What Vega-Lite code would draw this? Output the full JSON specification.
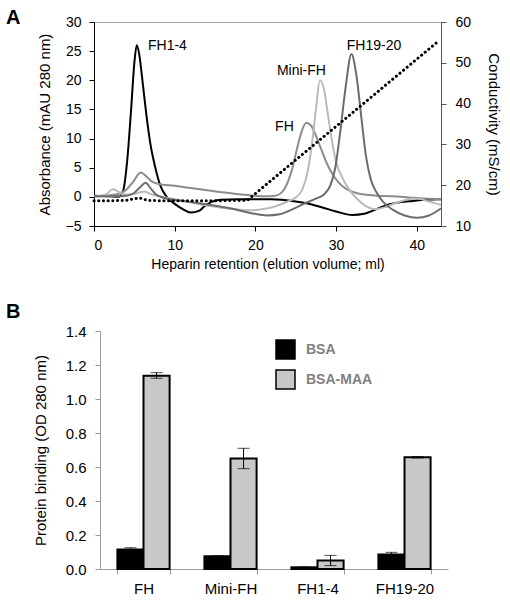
{
 "$schema": "https://vega.github.io/schema/vega-lite/v6.json",
 "padding": {"left": 5, "top": 7, "right": 5, "bottom": 5},
 "config": {"font": "Liberation Sans", "axis": {"labelColor": "black", "titleColor": "black", "labelFontSize": 14, "titleFontSize": 14, "titleFontWeight": "normal", "grid": false}},
 "datasets": {
  "protein": [
   {"s":"FH1-4","x":0,"y":0.2},{"s":"FH1-4","x":2,"y":0.1},{"s":"FH1-4","x":3,"y":0},{"s":"FH1-4","x":3.6,"y":1},{"s":"FH1-4","x":4.1,"y":6},{"s":"FH1-4","x":4.6,"y":15},{"s":"FH1-4","x":5.0,"y":23},{"s":"FH1-4","x":5.3,"y":26},{"s":"FH1-4","x":5.6,"y":24.5},{"s":"FH1-4","x":6.0,"y":20},{"s":"FH1-4","x":6.5,"y":14},{"s":"FH1-4","x":7.0,"y":9},{"s":"FH1-4","x":7.6,"y":5},{"s":"FH1-4","x":8.2,"y":2},{"s":"FH1-4","x":9.0,"y":0},{"s":"FH1-4","x":10,"y":-1.2},{"s":"FH1-4","x":11,"y":-2.1},{"s":"FH1-4","x":12,"y":-2.7},{"s":"FH1-4","x":13,"y":-2.4},{"s":"FH1-4","x":13.7,"y":-1.6},{"s":"FH1-4","x":14.5,"y":-0.9},{"s":"FH1-4","x":15.7,"y":-0.5},{"s":"FH1-4","x":18,"y":-0.4},{"s":"FH1-4","x":22,"y":-0.4},{"s":"FH1-4","x":25,"y":-0.8},{"s":"FH1-4","x":27,"y":-1.3},{"s":"FH1-4","x":28.5,"y":-1.9},{"s":"FH1-4","x":30,"y":-2.5},{"s":"FH1-4","x":32,"y":-3.1},{"s":"FH1-4","x":33.5,"y":-2.9},{"s":"FH1-4","x":34.5,"y":-2.4},{"s":"FH1-4","x":35.5,"y":-1.8},{"s":"FH1-4","x":36.5,"y":-1.3},{"s":"FH1-4","x":38,"y":-0.9},{"s":"FH1-4","x":39.5,"y":-0.7},{"s":"FH1-4","x":41,"y":-0.5},{"s":"FH1-4","x":43,"y":-0.4},
   {"s":"FH","x":0,"y":0.1},{"s":"FH","x":1.5,"y":0.2},{"s":"FH","x":3,"y":0.5},{"s":"FH","x":4,"y":1.2},{"s":"FH","x":4.8,"y":2.5},{"s":"FH","x":5.8,"y":4.2},{"s":"FH","x":6.5,"y":3.5},{"s":"FH","x":7.2,"y":2.6},{"s":"FH","x":8,"y":2.2},{"s":"FH","x":10,"y":1.9},{"s":"FH","x":12,"y":1.5},{"s":"FH","x":14.7,"y":1.0},{"s":"FH","x":17,"y":0.6},{"s":"FH","x":19,"y":0.3},{"s":"FH","x":21,"y":0.1},{"s":"FH","x":22.5,"y":0.2},{"s":"FH","x":23.3,"y":0.8},{"s":"FH","x":24,"y":2.5},{"s":"FH","x":24.6,"y":5},{"s":"FH","x":25.2,"y":8.5},{"s":"FH","x":25.8,"y":11.5},{"s":"FH","x":26.3,"y":12.7},{"s":"FH","x":26.9,"y":12.2},{"s":"FH","x":27.5,"y":10.5},{"s":"FH","x":28.2,"y":8},{"s":"FH","x":28.9,"y":5.6},{"s":"FH","x":29.6,"y":3.8},{"s":"FH","x":30.3,"y":2.5},{"s":"FH","x":31.2,"y":1.4},{"s":"FH","x":32.2,"y":0.8},{"s":"FH","x":33.5,"y":0.4},{"s":"FH","x":35,"y":0.2},{"s":"FH","x":37,"y":0.1},{"s":"FH","x":39,"y":-0.1},{"s":"FH","x":41,"y":-0.3},{"s":"FH","x":43,"y":-0.4},
   {"s":"Mini-FH","x":0,"y":0.1},{"s":"Mini-FH","x":1.5,"y":0.4},{"s":"Mini-FH","x":2.3,"y":1.3},{"s":"Mini-FH","x":2.9,"y":1.0},{"s":"Mini-FH","x":3.5,"y":0.5},{"s":"Mini-FH","x":4.5,"y":0.4},{"s":"Mini-FH","x":5.5,"y":0.7},{"s":"Mini-FH","x":6.2,"y":0.9},{"s":"Mini-FH","x":7,"y":0.5},{"s":"Mini-FH","x":8.5,"y":0},{"s":"Mini-FH","x":10,"y":-0.4},{"s":"Mini-FH","x":12,"y":-0.9},{"s":"Mini-FH","x":14,"y":-1.5},{"s":"Mini-FH","x":16,"y":-1.9},{"s":"Mini-FH","x":18,"y":-2.2},{"s":"Mini-FH","x":19.5,"y":-2.3},{"s":"Mini-FH","x":21,"y":-2.1},{"s":"Mini-FH","x":22.5,"y":-1.6},{"s":"Mini-FH","x":24,"y":-0.8},{"s":"Mini-FH","x":25,"y":-0.1},{"s":"Mini-FH","x":25.8,"y":1.2},{"s":"Mini-FH","x":26.5,"y":4.5},{"s":"Mini-FH","x":27,"y":9},{"s":"Mini-FH","x":27.5,"y":15},{"s":"Mini-FH","x":28,"y":20},{"s":"Mini-FH","x":28.5,"y":18.5},{"s":"Mini-FH","x":29,"y":14},{"s":"Mini-FH","x":29.5,"y":9.5},{"s":"Mini-FH","x":30,"y":6},{"s":"Mini-FH","x":30.7,"y":3.5},{"s":"Mini-FH","x":31.5,"y":1.5},{"s":"Mini-FH","x":32.5,"y":-0.2},{"s":"Mini-FH","x":33.6,"y":-1.5},{"s":"Mini-FH","x":34.8,"y":-2.1},{"s":"Mini-FH","x":36,"y":-1.8},{"s":"Mini-FH","x":37.5,"y":-1.0},{"s":"Mini-FH","x":39,"y":-0.4},{"s":"Mini-FH","x":40,"y":-0.3},{"s":"Mini-FH","x":41.5,"y":-0.8},{"s":"Mini-FH","x":43,"y":-1.4},
   {"s":"FH19-20","x":0,"y":0.1},{"s":"FH19-20","x":2,"y":0.1},{"s":"FH19-20","x":3.5,"y":0.1},{"s":"FH19-20","x":4.8,"y":0.5},{"s":"FH19-20","x":5.6,"y":1.5},{"s":"FH19-20","x":6.4,"y":2.4},{"s":"FH19-20","x":7.0,"y":1.5},{"s":"FH19-20","x":7.7,"y":0.4},{"s":"FH19-20","x":8.5,"y":-0.1},{"s":"FH19-20","x":11,"y":-0.7},{"s":"FH19-20","x":14,"y":-1.3},{"s":"FH19-20","x":17,"y":-2},{"s":"FH19-20","x":19.5,"y":-2.8},{"s":"FH19-20","x":21.5,"y":-3.2},{"s":"FH19-20","x":23,"y":-3},{"s":"FH19-20","x":24.5,"y":-2.2},{"s":"FH19-20","x":26,"y":-1.2},{"s":"FH19-20","x":27.5,"y":-0.3},{"s":"FH19-20","x":28.5,"y":0.4},{"s":"FH19-20","x":29.3,"y":2},{"s":"FH19-20","x":29.9,"y":5},{"s":"FH19-20","x":30.5,"y":11},{"s":"FH19-20","x":31.2,"y":19},{"s":"FH19-20","x":31.9,"y":24.5},{"s":"FH19-20","x":32.5,"y":21},{"s":"FH19-20","x":33.1,"y":14},{"s":"FH19-20","x":33.7,"y":7},{"s":"FH19-20","x":34.3,"y":3},{"s":"FH19-20","x":35,"y":0.8},{"s":"FH19-20","x":35.8,"y":-0.8},{"s":"FH19-20","x":37,"y":-2.2},{"s":"FH19-20","x":38.5,"y":-3.2},{"s":"FH19-20","x":40,"y":-3.6},{"s":"FH19-20","x":41.5,"y":-3.2},{"s":"FH19-20","x":43,"y":-2.0}
  ],
  "cond": [
   {"x":0,"c":16.2},{"x":2,"c":16.2},{"x":4,"c":16.3},{"x":5.6,"c":16.9},{"x":6.6,"c":16.3},{"x":8,"c":16.2},{"x":12,"c":16.2},{"x":16,"c":16.2},{"x":19,"c":16.3},{"x":42.5,"c":55}
  ],
  "labels": [
   {"label":"FH1-4","x":9.1,"y":25.9},{"label":"Mini-FH","x":25.7,"y":21.6},{"label":"FH","x":23.6,"y":11.9},{"label":"FH19-20","x":34.7,"y":25.9}
  ],
  "binding": [
   {"protein":"FH","coating":"BSA","value":0.115,"lo":0.105,"hi":0.125},
   {"protein":"FH","coating":"BSA-MAA","value":1.137,"lo":1.122,"hi":1.155},
   {"protein":"Mini-FH","coating":"BSA","value":0.075,"lo":0.072,"hi":0.078},
   {"protein":"Mini-FH","coating":"BSA-MAA","value":0.65,"lo":0.59,"hi":0.71},
   {"protein":"FH1-4","coating":"BSA","value":0.01,"lo":0.008,"hi":0.012},
   {"protein":"FH1-4","coating":"BSA-MAA","value":0.05,"lo":0.02,"hi":0.08},
   {"protein":"FH19-20","coating":"BSA","value":0.085,"lo":0.072,"hi":0.098},
   {"protein":"FH19-20","coating":"BSA-MAA","value":0.657,"lo":0.653,"hi":0.661}
  ]
 },
 "spacing": 30,
 "vconcat": [
  {
   "width": 347, "height": 204,
   "title": {"text": "A", "anchor": "start", "frame": "group", "dx": -88, "dy": 13, "fontSize": 20, "fontWeight": "bold", "offset": 0},
   "view": {"stroke": "#a6a6a6"},
   "encoding": {"x": {"field": "x", "type": "quantitative", "title": "Heparin retention (elution volume; ml)", "scale": {"domain": [0, 43], "nice": false}, "axis": {"values": [0,10,20,30,40], "domainColor": "black", "tickColor": "black", "tickSize": 5, "labelPadding": 7, "titlePadding": 5}}},
   "layer": [
    {
     "encoding": {"y": {"field": "y", "type": "quantitative", "title": "Absorbance (mAU 280 nm)", "scale": {"domain": [-5, 30], "nice": false}, "axis": {"values": [-5,0,5,10,15,20,25,30], "domainColor": "black", "tickColor": "black", "tickSize": 5, "labelPadding": 8, "titleFontSize": 15, "titlePadding": 13}}},
     "layer": [
      {"data": {"name": "protein"}, "mark": {"type": "line", "strokeWidth": 2, "interpolate": "monotone"},
       "encoding": {"color": {"field": "s", "type": "nominal", "scale": {"domain": ["FH1-4","FH","Mini-FH","FH19-20"], "range": ["#000000","#8c8c8c","#bababa","#6c6c6c"]}, "legend": null}}},
      {"data": {"name": "labels"}, "mark": {"type": "text", "fontSize": 14, "font": "Liberation Sans", "color": "black"},
       "encoding": {"text": {"field": "label"}}}
     ]
    },
    {"data": {"name": "cond"}, "mark": {"type": "line", "stroke": "black", "strokeWidth": 3, "strokeDash": [0.1, 4.6], "strokeCap": "round"},
     "encoding": {"y": {"field": "c", "type": "quantitative", "title": "Conductivity (mS/cm)", "scale": {"domain": [10, 60], "nice": false}, "axis": {"orient": "right", "values": [10,20,30,40,50,60], "domainColor": "#555555", "tickColor": "#555555", "tickSize": 5, "labelPadding": 9, "titleFontSize": 15, "titlePadding": 15}}}}
   ],
   "resolve": {"scale": {"y": "independent"}}
  },
  {
   "width": 354, "height": 238,
   "title": {"text": "B", "anchor": "start", "frame": "group", "dx": -88, "fontSize": 20, "fontWeight": "bold", "offset": 2},
   "view": {"stroke": null},
   "data": {"name": "binding"},
   "encoding": {
    "x": {"field": "protein", "type": "nominal", "title": null, "sort": ["FH","Mini-FH","FH1-4","FH19-20"], "scale": {"paddingInner": 0.4, "paddingOuter": 0.2, "range": [6, 354]}, "axis": {"labelAngle": 0, "labelFontSize": 15, "tickBand": "extent", "domainColor": "#9a9a9a", "tickColor": "#9a9a9a", "tickSize": 5, "labelPadding": 7}},
    "xOffset": {"field": "coating", "type": "nominal", "sort": ["BSA","BSA-MAA"]}
   },
   "layer": [
    {"mark": {"type": "bar", "stroke": "black", "strokeWidth": 2},
     "encoding": {
      "y": {"field": "value", "type": "quantitative", "title": "Protein binding (OD 280 nm)", "scale": {"domain": [0, 1.4], "nice": false}, "axis": {"values": [0,0.2,0.4,0.6,0.8,1.0,1.2,1.4], "format": ".1f", "offset": -6, "labelFontSize": 15, "titleFontSize": 15, "domainColor": "#9a9a9a", "tickColor": "#9a9a9a", "tickSize": 5, "labelPadding": 9, "titlePadding": 17, "labelOverlap": false}},
      "fill": {"field": "coating", "type": "nominal", "scale": {"domain": ["BSA","BSA-MAA"], "range": ["#000000","#c8c8c8"]},
       "legend": {"orient": "none", "legendX": 181, "legendY": 317, "title": null, "symbolType": "square", "symbolSize": 361, "symbolStrokeColor": "black", "symbolStrokeWidth": 1.5, "labelFontSize": 14, "labelFontWeight": "bold", "labelColor": "#808080", "labelOffset": 10, "rowPadding": 5, "padding": 0}}
     }},
    {"mark": {"type": "rule", "color": "black", "strokeWidth": 1},
     "encoding": {"y": {"field": "lo", "type": "quantitative", "title": "Protein binding (OD 280 nm)", "axis": {"values": [0,0.2,0.4,0.6,0.8,1.0,1.2,1.4], "format": ".1f", "offset": -6, "labelFontSize": 15, "titleFontSize": 15, "domainColor": "#9a9a9a", "tickColor": "#9a9a9a", "tickSize": 5, "labelPadding": 9, "titlePadding": 17, "labelOverlap": false}}, "y2": {"field": "hi"}}},
    {"mark": {"type": "tick", "color": "black", "thickness": 1, "size": 12},
     "encoding": {"y": {"field": "lo", "type": "quantitative", "title": "Protein binding (OD 280 nm)", "axis": {"values": [0,0.2,0.4,0.6,0.8,1.0,1.2,1.4], "format": ".1f", "offset": -6, "labelFontSize": 15, "titleFontSize": 15, "domainColor": "#9a9a9a", "tickColor": "#9a9a9a", "tickSize": 5, "labelPadding": 9, "titlePadding": 17, "labelOverlap": false}}}},
    {"mark": {"type": "tick", "color": "black", "thickness": 1, "size": 12},
     "encoding": {"y": {"field": "hi", "type": "quantitative", "title": "Protein binding (OD 280 nm)", "axis": {"values": [0,0.2,0.4,0.6,0.8,1.0,1.2,1.4], "format": ".1f", "offset": -6, "labelFontSize": 15, "titleFontSize": 15, "domainColor": "#9a9a9a", "tickColor": "#9a9a9a", "tickSize": 5, "labelPadding": 9, "titlePadding": 17, "labelOverlap": false}}}}
   ]
  }
 ]
}
